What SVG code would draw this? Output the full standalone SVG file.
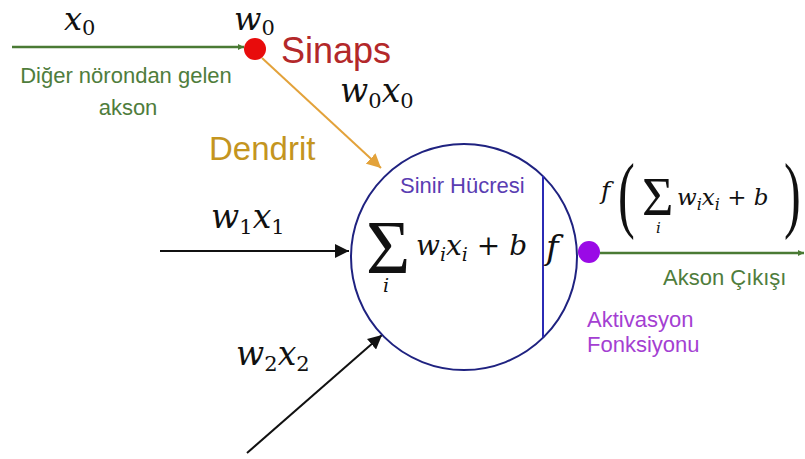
<svg xmlns="http://www.w3.org/2000/svg" width="805" height="459" viewBox="0 0 805 459">
<defs>
<style>
.lbl{font-family:"Liberation Sans",Arial,sans-serif}
.m{font-family:"DejaVu Serif","Liberation Serif",serif;font-style:italic;fill:#111}
.r{font-family:"DejaVu Serif","Liberation Serif",serif;font-style:normal;fill:#111}
.s{font-family:"Liberation Serif","Times New Roman",serif;font-style:normal;fill:#111}
</style>
<marker id="ag" viewBox="0 0 10 10" refX="10" refY="5" markerWidth="6" markerHeight="6" orient="auto" markerUnits="userSpaceOnUse"><path d="M0,0 L10,5 L0,10 z" fill="#4a7a34"/></marker>
<marker id="ao" viewBox="0 0 10 10" refX="10" refY="5" markerWidth="7" markerHeight="7" orient="auto"><path d="M0,0 L10,5 L0,10 z" fill="#e3a23a"/></marker>
<marker id="ab" viewBox="0 0 10 10" refX="10" refY="5" markerWidth="7" markerHeight="7" orient="auto"><path d="M0,0 L10,5 L0,10 z" fill="#111"/></marker>
</defs>
<rect width="805" height="459" fill="#fff"/>
<g id="connectors" fill="none" stroke-width="2">
<line x1="12" y1="47" x2="244" y2="47" stroke="#4a7a34" marker-end="url(#ag)" stroke-width="2.5"/>
<line x1="262" y1="58" x2="381" y2="168" stroke="#e3a23a" marker-end="url(#ao)"/>
<line x1="160" y1="251" x2="349" y2="251" stroke="#111" marker-end="url(#ab)"/>
<line x1="247" y1="453" x2="382" y2="335" stroke="#111" marker-end="url(#ab)"/>
<line x1="600" y1="253" x2="804" y2="253" stroke="#4a7a34" marker-end="url(#ag)" stroke-width="2.5"/>
</g>
<g id="input-x0">
<text class="m" x="64" y="30" font-size="32">x<tspan class="r" font-size="21" dy="5">0</tspan></text>
<text class="lbl" x="126" y="83" font-size="22" fill="#4f7d3c" text-anchor="middle">Diğer nörondan gelen</text>
<text class="lbl" x="128" y="115" font-size="22" fill="#4f7d3c" text-anchor="middle">akson</text>
</g>
<g id="synapse">
<circle cx="255" cy="49" r="11" fill="#e80c0c"/>
<text class="m" x="234" y="30" font-size="32">w<tspan class="r" font-size="21" dy="5">0</tspan></text>
<text class="lbl" x="281" y="63" font-size="36" fill="#b3282a">Sinaps</text>
<text class="m" x="340" y="102" font-size="33">w<tspan class="r" font-size="21" dy="6">0</tspan><tspan dy="-6">x</tspan><tspan class="r" font-size="21" dy="6">0</tspan></text>
<text class="lbl" x="209" y="160" font-size="33" fill="#c4951f">Dendrit</text>
</g>
<g id="input-w1x1">
<text class="m" x="211" y="228" font-size="33">w<tspan class="r" font-size="21" dy="6">1</tspan><tspan dy="-6">x</tspan><tspan class="r" font-size="21" dy="6">1</tspan></text>
</g>
<g id="input-w2x2">
<text class="m" x="236" y="365" font-size="33">w<tspan class="r" font-size="21" dy="6">2</tspan><tspan dy="-6">x</tspan><tspan class="r" font-size="21" dy="6">2</tspan></text>
</g>
<g id="neuron">
<circle cx="464" cy="257" r="113" fill="none" stroke="#1f2280" stroke-width="2"/>
<line x1="543" y1="176" x2="543" y2="337" stroke="#2b2bb5" stroke-width="2"/>
<text class="lbl" x="400" y="193" font-size="22" fill="#5a3db2">Sinir Hücresi</text>
<text class="s" x="366" y="273" font-size="76">Σ<tspan class="m" x="383" y="292" font-size="19">i</tspan></text>
<text class="m" x="416" y="255" font-size="28">w<tspan font-size="19" dy="6">i</tspan><tspan dy="-6">x</tspan><tspan font-size="19" dy="6">i</tspan><tspan class="r" dy="-6"> + </tspan>b</text>
<text class="m" x="546" y="259" font-size="34">f</text>
</g>
<g id="activation">
<circle cx="589" cy="252" r="11" fill="#9a0ae6"/>
<text class="lbl" x="587" y="327" font-size="22" fill="#a43fd2">Aktivasyon</text>
<text class="lbl" x="587" y="352" font-size="22" fill="#a43fd2">Fonksiyonu</text>
</g>
<g id="output">
<text class="m" x="601" y="199" font-size="25">f</text>
<text class="s" x="0" y="0" font-size="84" transform="translate(618,222) scale(0.6,1)">(</text>
<text class="s" x="642" y="215" font-size="54">Σ<tspan class="m" x="656" y="233" font-size="15">i</tspan></text>
<text class="m" x="677" y="205" font-size="23">w<tspan font-size="16" dy="5">i</tspan><tspan dy="-5">x</tspan><tspan font-size="16" dy="5">i</tspan><tspan class="r" dy="-5"> + </tspan>b</text>
<text class="s" x="0" y="0" font-size="84" transform="translate(784,222) scale(0.6,1)">)</text>
<text class="lbl" x="663" y="285" font-size="22" fill="#4f7d3c">Akson Çıkışı</text>
</g>
</svg>
